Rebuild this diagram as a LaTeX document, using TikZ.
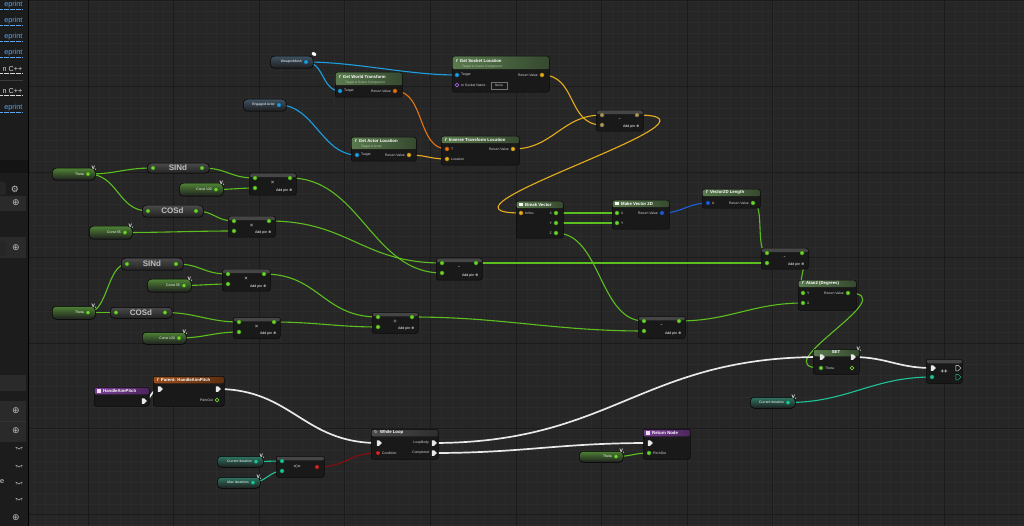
\documentclass[tikz,border=0pt]{standalone}
\usepackage{fontspec}
\setmainfont{Liberation Sans}
\newfontfamily\dv{DejaVu Sans}
\usetikzlibrary{shapes.symbols,shapes.geometric}
\pgfdeclarelayer{grid}
\pgfdeclarelayer{wires}
\pgfsetlayers{grid,wires,main}
\definecolor{canvas}{HTML}{262626}
\definecolor{gminor}{HTML}{2B2B2B}
\definecolor{gmajor}{HTML}{1B1B1B}
\definecolor{sbA}{HTML}{1C1C1C}
\definecolor{sbB}{HTML}{141414}
\definecolor{sbrow}{HTML}{2A2A2A}
\definecolor{sbsep}{HTML}{3C3C3C}
\definecolor{sbblue}{HTML}{5AA5F0}
\definecolor{sbicon}{HTML}{BDBDBD}
\definecolor{nodebg}{HTML}{191919}
\definecolor{nodeedge}{HTML}{0A0A0A}
\definecolor{txt}{HTML}{DADADA}
\definecolor{subc}{HTML}{B4C4AC}
\definecolor{hgreen}{HTML}{5A7A4E}
\definecolor{hpurple}{HTML}{7C3E98}
\definecolor{horange}{HTML}{9A4E1C}
\definecolor{hgrey}{HTML}{4C4C4C}
\definecolor{opband}{HTML}{454545}
\definecolor{pilltop}{HTML}{4A4A4A}
\definecolor{pillbot}{HTML}{222222}
\definecolor{trigt}{HTML}{BEBEBE}
\definecolor{cgreen}{HTML}{5DBE1F}
\definecolor{pgreen}{HTML}{6AD52C}
\definecolor{cblue}{HTML}{1C9FE2}
\definecolor{corange}{HTML}{E57410}
\definecolor{cyellow}{HTML}{E6AE1E}
\definecolor{cdblue}{HTML}{1E5FD6}
\definecolor{cteal}{HTML}{1EC497}
\definecolor{cred}{HTML}{8E0B0B}
\definecolor{pred}{HTML}{D42A2A}
\definecolor{cwhite}{HTML}{E8E8E8}
\definecolor{cpurple}{HTML}{A060E0}
\definecolor{vgreen}{HTML}{4F8236}
\definecolor{vblue}{HTML}{3E5060}
\definecolor{vteal}{HTML}{2F7562}
\definecolor{vbot}{HTML}{1E1E1E}
\definecolor{vecpin}{HTML}{A89A5C}
\tikzset{
  fnode/.style={draw=nodeedge, line width=0.5pt, fill=nodebg, rounded corners=2.2pt, anchor=north west, inner sep=0pt},
  hdr/.style 2 args={path picture={\path[left color=#1, right color=#1!60!black] (path picture bounding box.north west) rectangle ([yshift=-#2]path picture bounding box.north east);}},
  hdru/.style 2 args={path picture={\fill[#1] (path picture bounding box.north west) rectangle ([yshift=-#2]path picture bounding box.north east);}},
  opn/.style={fnode, hdru={opband}{4pt}},
  vnode/.style={rounded corners=4pt, draw=black, line width=0.5pt, top color=#1, bottom color=vbot, anchor=north west, inner sep=0pt},
  pill/.style={rounded corners=4pt, draw=black, line width=0.5pt, top color=pilltop, bottom color=pillbot, anchor=north west, inner sep=0pt},
  pinb/.style={circle, inner sep=0pt, minimum size=4.2pt, line width=0.4pt},
  gp/.style={pinb, fill=pgreen, draw=cgreen!50!black},
  bp/.style={pinb, fill=cblue, draw=cblue!50!black},
  dbp/.style={pinb, fill=cdblue, draw=cdblue!50!black},
  yp/.style={pinb, fill=cyellow, draw=cyellow!50!black},
  vp/.style={pinb, fill=vecpin, draw=vecpin!50!black},
  orp/.style={pinb, fill=corange, draw=corange!50!black},
  tp/.style={pinb, fill=cteal, draw=cteal!50!black},
  rp/.style={pinb, fill=pred, draw=cred!60!black},
  hollow/.style={circle, inner sep=0pt, minimum size=3.8pt, line width=0.6pt, fill=nodebg},
  expin/.style={signal, signal to=east, fill=cwhite, inner sep=0pt, minimum width=5pt, minimum height=5.5pt},
  exh/.style={expin, fill=nodebg, draw=#1, line width=0.5pt},
  pl/.style={font=\fontsize{3.4}{4}\selectfont, text=txt, inner sep=0pt},
  ttl/.style={font=\bfseries\fontsize{4.3}{5}\selectfont, text=white, inner sep=0pt, anchor=west},
  sub/.style={font=\fontsize{3.2}{4}\selectfont, text=subc, inner sep=0pt, anchor=west},
  vl/.style={font=\fontsize{3.4}{4}\selectfont, text=white, inner sep=0pt, anchor=east},
  opt/.style={font=\fontsize{6}{6}\selectfont, text=txt, inner sep=0pt},
  addp/.style={font=\fontsize{3.6}{4}\selectfont, text=white, inner sep=0pt, anchor=east},
  trig/.style={font=\bfseries\fontsize{8}{8}\selectfont, text=trigt, inner sep=0pt},
  vic/.style={font=\bfseries\fontsize{5}{5}\selectfont, text=white, inner sep=0pt},
  gw/.style={draw=cgreen, line width=1.1pt},
  bw/.style={draw=cblue, line width=1.1pt},
  dbw/.style={draw=cdblue, line width=1.1pt},
  yw/.style={draw=cyellow, line width=1.1pt},
  ow/.style={draw=corange, line width=1.1pt},
  tw/.style={draw=cteal, line width=1.1pt},
  rw/.style={draw=cred, line width=1.0pt},
  ww/.style={draw=cwhite, line width=1.7pt},
  sbt/.style={font=\fontsize{7.2}{8}\selectfont, inner sep=0pt, anchor=east},
  sbi/.style={font=\dv\fontsize{9}{9}\selectfont, text=sbicon, inner sep=0pt},
}
\newcommand\vico{V\kern-0.2pt\raisebox{-0.8pt}{\fontsize{2.6}{3}\selectfont x}}
\newcommand\wire[4]{\draw[#1] (#2.center) .. controls +(#4,0) and +(-#4,0) .. (#3.center);}
% name, x, y, w, h, symbol, pinstyle
\newcommand\mkop[7]{%
\begin{scope}[shift={(#2,#3)}]
\node[opn, minimum width=#4pt, minimum height=#5pt] (#1) at (0,0) {};
\node[opt] at ({#4/2},9.5) {#6};
\node[addp] at ({#4-3.5},{#5-4.5}) {Add pin {\dv ⊕}};
\node[#7] (#1a) at (6,5) {};
\node[#7] (#1b) at (6,15) {};
\node[#7] (#1o) at ({#4-6},5) {};
\end{scope}}
% name, x, y, w, h, colour, pinstyle, label, icon
\newcommand\mkvar[9]{%
\begin{scope}[shift={(#2,#3)}]
\node[vnode=#6, minimum width=#4pt, minimum height=#5pt] (#1) at (0,0) {};
\node[vl] at ({#4-11},{#5/2}) {#8};
\node[#7] (#1o) at ({#4-7},{#5/2}) {};
\node[vic] at ({#4-1},0.5) {#9};
\end{scope}}
% name, x, y, w, h, text
\newcommand\mkpill[6]{%
\begin{scope}[shift={(#2,#3)}]
\node[pill, minimum width=#4pt, minimum height=#5pt] (#1) at (0,0) {};
\node[trig] at ({#4/2},{#5/2}) {#6};
\node[gp] (#1i) at (6,{#5/2}) {};
\node[gp] (#1o) at ({#4-7},{#5/2}) {};
\end{scope}}
\begin{document}
\begin{tikzpicture}[x=1pt,y=-1pt]
\useasboundingbox (0,0) rectangle (1024,526);
% ---------- canvas and grid ----------
\begin{pgfonlayer}{grid}
\fill[canvas] (28,0) rectangle (1024,526);
\begin{scope}
\clip (28,0) rectangle (1024,526);
\foreach \k in {-6,...,88} {\draw[gminor, line width=0.4pt] ({88+\k*10.7},0) -- ++(0,526);}
\foreach \k in {-17,...,33} {\draw[gminor, line width=0.4pt] (28,{172+\k*10.7}) -- ++(996,0);}
\foreach \k in {-1,...,11} {\draw[gmajor, line width=0.9pt] ({88+\k*85.6},0) -- ++(0,526);}
\foreach \k in {-2,...,4} {\draw[gmajor, line width=0.9pt] (28,{172+\k*85.6}) -- ++(996,0);}
\end{scope}
% ---------- side panel ----------
\fill[sbA] (0,0) rectangle (28,160);
\fill[sbB] (0,160) rectangle (28,173);
\fill[sbA] (0,173) rectangle (28,526);
\draw[black, line width=0.8pt] (28,0) -- (28,526);
\foreach \ya/\yb in {196/211, 237/258, 375/391, 401/421, 422/442} {\fill[sbrow] (0,\ya) rectangle (26,\yb);}
\draw[black!80, line width=0.5pt] (0,421.5) -- (26,421.5);
\fill[black!85, rounded corners=3pt] (-6,182) rectangle (6,195);
\fill[black!85, rounded corners=3pt] (-6,241) rectangle (6,256);
\draw[sbsep, line width=0.6pt] (0,80) -- (23,80);
\end{pgfonlayer}
\foreach \yy/\ww/\cc in {5/eprint/sbblue, 21/eprint/sbblue, 37/eprint/sbblue, 53/eprint/sbblue, 69/n C++/txt, 91/n C++/txt, 108/eprint/sbblue} {
  \node[sbt, text=\cc] at (22.5,\yy) {\ww};
  \draw[\cc, dash pattern=on 0.6pt off 0.6pt, line width=0.4pt] (0,\yy+4.5) -- (22.5,\yy+4.5);
}
\node[sbi] (gear) at (15,189) {⚙};
\foreach \yy in {203,248,411,431,518} {\node[sbi] at (16,\yy) {⊕};}
\foreach \yy in {447,465,482,498} {
  \draw[sbicon, line width=0.5pt] (15.5,\yy) .. controls (17.5,\yy+2.2) and (20.5,\yy+2.2) .. (22.5,\yy);
  \draw[sbicon, line width=0.4pt] (17,\yy+1.3) -- (16.5,\yy+2.3) (19,\yy+1.7) -- (19,\yy+2.8) (21,\yy+1.3) -- (21.5,\yy+2.3);
}
\node[sbt, text=txt, anchor=west] at (0,482) {e};

% ---------- top group ----------
\mkvar{wm}{270}{56}{43}{12}{vblue}{bp}{WeaponMesh}{}
\node[fill=white, ellipse, minimum width=5pt, minimum height=3.5pt, inner sep=0pt, rotate=-25] (wmicon) at (314,54) {};
\mkvar{ea}{243}{99}{43}{12}{vblue}{bp}{Engaged Actor}{}

\node[fnode, hdr={hgreen}{13pt}, minimum width=97pt, minimum height=36pt] (gsl) at (452,56) {};
\node[ttl] at (456,60.5) {\textit{f}\hspace{2pt}Get Socket Location};
\node[sub] at (462,66.5) {Target is Scene Component};
\node[bp] (gslt) at (457,75) {}; \node[pl, anchor=west] at (461,75) {Target};
\node[yp] (gslr) at (542,75) {}; \node[pl, anchor=east] at (538,75) {Return Value};
\node[hollow, draw=cpurple] (gsln) at (457,85) {}; \node[pl, anchor=west] at (461,85) {In Socket Name};
\node[draw=black!55, fill=black!90, minimum width=16pt, minimum height=6.5pt, inner sep=0pt, font=\fontsize{3.2}{4}\selectfont, text=txt] (gslbox) at (499,85.5) {None};

\node[fnode, hdr={hgreen}{13pt}, minimum width=67pt, minimum height=25pt] (gwt) at (335,72) {};
\node[ttl] at (339,76.5) {\textit{f}\hspace{2pt}Get World Transform};
\node[sub] at (345,82.5) {Target is Scene Component};
\node[bp] (gwtt) at (340,91) {}; \node[pl, anchor=west] at (344,91) {Target};
\node[orp] (gwtr) at (395,91) {}; \node[pl, anchor=east] at (391,91) {Return Value};

\node[fnode, hdr={hgreen}{12pt}, minimum width=65pt, minimum height=24pt] (gal) at (351,137) {};
\node[ttl] at (355,141) {\textit{f}\hspace{2pt}Get Actor Location};
\node[sub] at (361,146.5) {Target is Actor};
\node[bp] (galt) at (357,155) {}; \node[pl, anchor=west] at (361,155) {Target};
\node[yp] (galr) at (409,155) {}; \node[pl, anchor=east] at (405,155) {Return Value};

\node[fnode, hdr={hgreen}{7pt}, minimum width=78pt, minimum height=29pt] (itl) at (441,136) {};
\node[ttl] at (445,139.5) {\textit{f}\hspace{2pt}Inverse Transform Location};
\node[orp] (itlt) at (447,149) {}; \node[pl, anchor=west] at (451,149) {T};
\node[yp] (itll) at (447,159) {}; \node[pl, anchor=west] at (451,159) {Location};
\node[yp] (itlr) at (513,149) {}; \node[pl, anchor=east] at (509,149) {Return Value};

\mkop{mz}{596}{110}{47}{21}{-}{vp}

\node[fnode, hdr={hgreen}{7pt}, minimum width=47pt, minimum height=37pt] (bv) at (516,201) {};
\fill[white] (519,203) rectangle (523,206.5);
\node[ttl] at (525,204.5) {Break Vector};
\node[yp] (bvi) at (521,213) {}; \node[pl, anchor=west] at (525,213) {InVec};
\node[gp] (bvx) at (556,213) {}; \node[pl, anchor=east] at (552,213) {X};
\node[gp] (bvy) at (556,223) {}; \node[pl, anchor=east] at (552,223) {Y};
\node[gp] (bvz) at (556,233) {}; \node[pl, anchor=east] at (552,233) {Z};

\node[fnode, hdr={hgreen}{7pt}, minimum width=57pt, minimum height=29pt] (mv) at (612,200) {};
\fill[white] (615,202) rectangle (619,205.5);
\node[ttl] at (621,203.5) {Make Vector 2D};
\node[gp] (mvx) at (617,213) {}; \node[pl, anchor=west] at (621,213) {X};
\node[gp] (mvy) at (617,223) {}; \node[pl, anchor=west] at (621,223) {Y};
\node[dbp] (mvr) at (662,213) {}; \node[pl, anchor=east] at (658,213) {Return Value};

\node[fnode, hdr={hgreen}{7pt}, minimum width=58pt, minimum height=19pt] (vl) at (702,189) {};
\node[ttl] at (706,192.5) {\textit{f}\hspace{2pt}Vector2D Length};
\node[dbp] (vla) at (708,203) {}; \node[pl, anchor=west] at (712,203) {A};
\node[gp] (vlr) at (753,203) {}; \node[pl, anchor=east] at (749,203) {Return Value};

\mkop{mr}{761}{248}{47}{21}{-}{gp}

\node[fnode, hdr={hgreen}{7pt}, minimum width=58pt, minimum height=30pt] (at) at (798,280) {};
\node[ttl] at (802,283.5) {\textit{f}\hspace{2pt}Atan2 (Degrees)};
\node[gp] (aty) at (803,293) {}; \node[pl, anchor=west] at (807,293) {Y};
\node[gp] (atx) at (803,303) {}; \node[pl, anchor=west] at (807,303) {X};
\node[gp] (atr) at (848,293) {}; \node[pl, anchor=east] at (844,293) {Return Value};

% ---------- SET and increment ----------
\node[fnode, hdr={hgreen}{7pt}, minimum width=46pt, minimum height=25pt] (set) at (813,349) {};
\node[ttl, anchor=center] at (836,352.5) {SET};
\node[expin] (seti) at (821,357) {};
\node[expin] (seto) at (852,357) {};
\node[gp] (setth) at (821,368) {}; \node[pl, anchor=west] at (825,368) {Theta};
\node[hollow, draw=pgreen] (setv) at (852,368) {};
\node[vic] at (859,349.5) {\vico};

\node[opn, minimum width=36pt, minimum height=24pt] (inc) at (926,359) {};
\node[expin] (inci) at (932,368) {};
\node[exh=cwhite] (inco) at (957,368) {};
\node[tp] (incb) at (932,377) {};
\node[exh=cteal] (incbo) at (957,377) {};
\node[opt, font=\bfseries\fontsize{6}{6}\selectfont] at (944,372) {++};
\mkvar{cib}{750}{397}{45}{11}{vteal}{tp}{Current Iteration}{\vico}

% ---------- trig group ----------
\mkvar{tha}{52}{168}{43}{12}{vgreen}{gp}{Theta}{\vico}
\mkpill{sina}{147}{163}{62}{10}{SINd}
\mkvar{cka}{179}{183}{44}{13}{vgreen}{gp}{Const 120}{\vico}
\mkop{ma}{249}{173}{47}{22}{×}{gp}
\mkpill{cosa}{142}{205}{61}{12}{COSd}
\mkvar{cfa}{89}{226}{43}{13}{vgreen}{gp}{Const 55}{\vico}
\mkop{mb}{228}{216}{47}{21}{×}{gp}
\mkop{mm}{436}{258}{46}{22}{-}{gp}

\mkpill{sinb}{121}{258}{62}{12}{SINd}
\mkvar{cfb}{147}{279}{44}{13}{vgreen}{gp}{Const 55}{\vico}
\mkop{mc}{222}{269}{48}{22}{×}{gp}
\mkvar{thb}{52}{306}{43}{13}{vgreen}{gp}{Theta}{\vico}
\mkpill{cosb}{110}{307}{62}{11}{COSd}
\mkvar{ckb}{142}{332}{44}{12}{vgreen}{gp}{Const 120}{\vico}
\mkop{md}{233}{317}{47}{21}{×}{gp}
\mkop{pl}{372}{312}{46}{21}{+}{gp}
\mkop{ml}{638}{316}{47}{22}{-}{gp}

% ---------- exec group ----------
\node[fnode, hdr={hpurple}{7pt}, minimum width=55pt, minimum height=19pt] (hap) at (94,387) {};
\fill[white!85!hpurple] (97,388.5) rectangle (101,392.5);
\node[ttl] at (103,390.5) {HandleAimPitch};
\node[expin] (hapx) at (143,401) {};

\node[fnode, hdr={horange}{7pt}, minimum width=71pt, minimum height=30pt] (par) at (153,376) {};
\node[ttl] at (157,379.5) {\textit{f}\hspace{2pt}Parent: HandleAimPitch};
\node[expin] (pari) at (159,389) {};
\node[expin] (paro) at (217,389) {};
\node[hollow, draw=pgreen] (parp) at (217,400) {}; \node[pl, anchor=east] at (213,400) {PitchOut};

\mkvar{cia}{217}{456}{46}{11}{vteal}{tp}{Current Iteration}{\vico}
\mkvar{mi}{217}{477}{43}{11}{vteal}{tp}{Max Iterations}{\vico}
\node[opn, minimum width=48pt, minimum height=21pt] (le) at (276,456) {};
\node[tp] (lea) at (282,461) {};
\node[tp] (leb) at (282,471) {};
\node[rp] (leo) at (317,467) {};
\node[opt] at (297,467) {<=};

\node[fnode, hdr={hgrey}{7pt}, minimum width=67pt, minimum height=30pt] (wl) at (371,429) {};
\node[ttl, font=\dv\fontsize{4}{5}\selectfont] at (374,432.5) {↻};
\node[ttl] at (380,432.5) {While Loop};
\node[expin] (wli) at (378,443) {};
\node[rp] (wlcond) at (378,453) {}; \node[pl, anchor=west] at (382,453) {Condition};
\node[expin] (wlb) at (433,443) {}; \node[pl, anchor=east] at (429,443) {LoopBody};
\node[expin] (wlc) at (433,453) {}; \node[pl, anchor=east] at (429,453) {Completed};

\node[fnode, hdr={hpurple}{7pt}, minimum width=47pt, minimum height=30pt] (rn) at (643,429) {};
\fill[white!85!hpurple] (646,430.5) rectangle (650,434.5);
\node[ttl] at (652,432.5) {Return Node};
\node[expin] (rni) at (649,443) {};
\node[gp] (rnp) at (649,453) {}; \node[pl, anchor=west] at (653,453) {PitchOut};
\mkvar{thc}{579}{451}{44}{11}{vgreen}{gp}{Theta}{\vico}

% ---------- wires ----------
\begin{pgfonlayer}{wires}
\wire{bw}{wmo}{gslt}{50}
\wire{bw}{wmo}{gwtt}{18}
\wire{bw}{eao}{galt}{35}
\wire{ow}{gwtr}{itlt}{30}
\wire{yw}{galr}{itll}{18}
\wire{yw}{itlr}{mza}{40}
\wire{yw}{gslr}{mzb}{35}
\wire{yw}{mzo}{bvi}{112}
\wire{gw}{bvx}{mvx}{20}
\wire{gw}{bvy}{mvy}{20}
\wire{dbw}{mvr}{vla}{20}
\wire{gw}{vlr}{mra}{12}
\wire{gw}{mmo}{mrb}{100}
\wire{gw}{mro}{aty}{9}
\wire{gw}{mlo}{atx}{50}
\wire{gw}{bvz}{mla}{45}
\wire{gw}{plo}{mlb}{90}
\wire{gw}{atr}{setth}{60}
\wire{gw}{thao}{sinai}{30}
\wire{gw}{thao}{cosai}{30}
\wire{gw}{sinao}{maa}{25}
\wire{gw}{ckao}{mab}{15}
\wire{gw}{cosao}{mba}{18}
\wire{gw}{cfao}{mbb}{40}
\wire{gw}{mao}{mmb}{70}
\wire{gw}{mbo}{mma}{80}
\wire{gw}{thbo}{sinbi}{20}
\wire{gw}{thbo}{cosbi}{15}
\wire{gw}{sinbo}{mca}{25}
\wire{gw}{cfbo}{mcb}{15}
\wire{gw}{cosbo}{mda}{30}
\wire{gw}{ckbo}{mdb}{25}
\wire{gw}{mco}{pla}{55}
\wire{gw}{mdo}{plb}{40}
\wire{ww}{hapx}{pari}{8}
\wire{ww}{paro}{wli}{75}
\wire{ww}{wlb}{seti}{180}
\wire{ww}{wlc}{rni}{90}
\wire{ww}{seto}{inci}{35}
\wire{tw}{ciao}{lea}{10}
\wire{tw}{mio}{leb}{12}
\wire{tw}{cibo}{incb}{60}
\wire{rw}{leo}{wlcond}{30}
\wire{gw}{thco}{rnp}{15}
\end{pgfonlayer}
\end{tikzpicture}
\end{document}
